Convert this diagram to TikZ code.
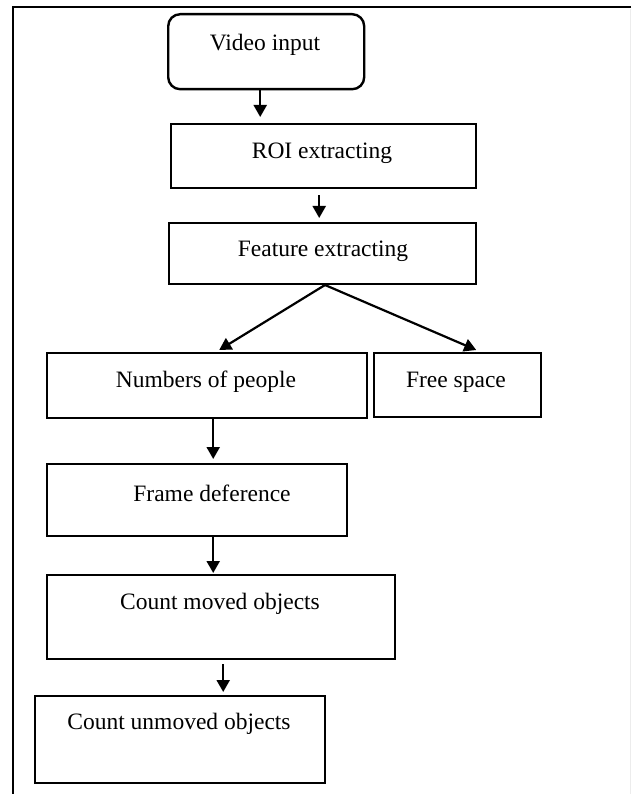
\documentclass[tikz,border=0pt]{standalone}
\usepackage{fontspec}
\setmainfont{Liberation Serif}
\usetikzlibrary{arrows.meta}
\tikzset{
  x=1pt, y=-1pt,
  box/.style={draw, line width=2.4pt, inner sep=0pt, anchor=north west},
  lbl/.style={font=\fontsize{23.5}{27}\selectfont, inner sep=0pt},
  arr/.style={line width=2.2pt, -{Triangle[length=12pt,width=13pt]}},
  frame/.style={line width=2.2pt}
}
\begin{document}
\begin{tikzpicture}
\useasboundingbox (0,0) rectangle (631,794);
% frame
\coordinate (ftl) at (13,7);
\coordinate (ftr) at (631,7);
\coordinate (fbl) at (13,794);
\draw[frame] (ftr) -- (ftl) -- (fbl);
\draw[gray!15, line width=1pt] (630,9) -- (630,794);
% boxes
\node[box, rounded corners=12pt, minimum width=196pt, minimum height=75pt] (vid) at (167,13) {};
\node[box, minimum width=305pt, minimum height=64pt] (roi) at (170,123) {};
\node[box, minimum width=307pt, minimum height=61pt] (feat) at (168,222) {};
\node[box, minimum width=320pt, minimum height=65pt] (num) at (46,352) {};
\node[box, minimum width=167pt, minimum height=64pt] (free) at (373,352) {};
\node[box, minimum width=300pt, minimum height=72pt] (fd) at (46,463) {};
\node[box, minimum width=348pt, minimum height=84pt] (cmo) at (46,574) {};
\node[box, minimum width=290pt, minimum height=87pt] (cuo) at (34,695) {};
% labels
\node[lbl] (tvid) at (265,45) {Video input};
\node[lbl] (troi) at (322,153) {ROI extracting};
\node[lbl] (tfeat) at (323,251) {Feature extracting};
\node[lbl] (tnum) at (206,382) {Numbers of people};
\node[lbl] (tfree) at (456,382) {Free space};
\node[lbl] (tfd) at (212,493) {Frame deference};
\node[lbl] (tcmo) at (220,604) {Count moved objects};
\node[lbl] (tcuo) at (179,724) {Count unmoved objects};
% connectors
\coordinate (apex) at (325,285);
\draw[arr] ([xshift=-6pt]vid.south) -- ([xshift=-63.5pt, yshift=6pt]roi.north);
\draw[arr] ([xshift=-4.5pt, yshift=-6pt]roi.south) -- ([xshift=-3.5pt, yshift=4pt]feat.north);
\draw[line width=2.2pt] (feat.south) -- (apex);
\draw[arr] (apex) -- ([xshift=12pt, yshift=2pt]num.north);
\draw[arr] (apex) -- ([xshift=18.5pt, yshift=2pt]free.north);
\draw[arr] ([xshift=6pt]num.south) -- ([xshift=16pt, yshift=4pt]fd.north);
\draw[arr] ([xshift=16pt]fd.south) -- ([xshift=-8pt, yshift=1pt]cmo.north);
\draw[arr] ([xshift=2pt, yshift=-4pt]cmo.south) -- ([xshift=43pt, yshift=3pt]cuo.north);
\end{tikzpicture}
\end{document}
